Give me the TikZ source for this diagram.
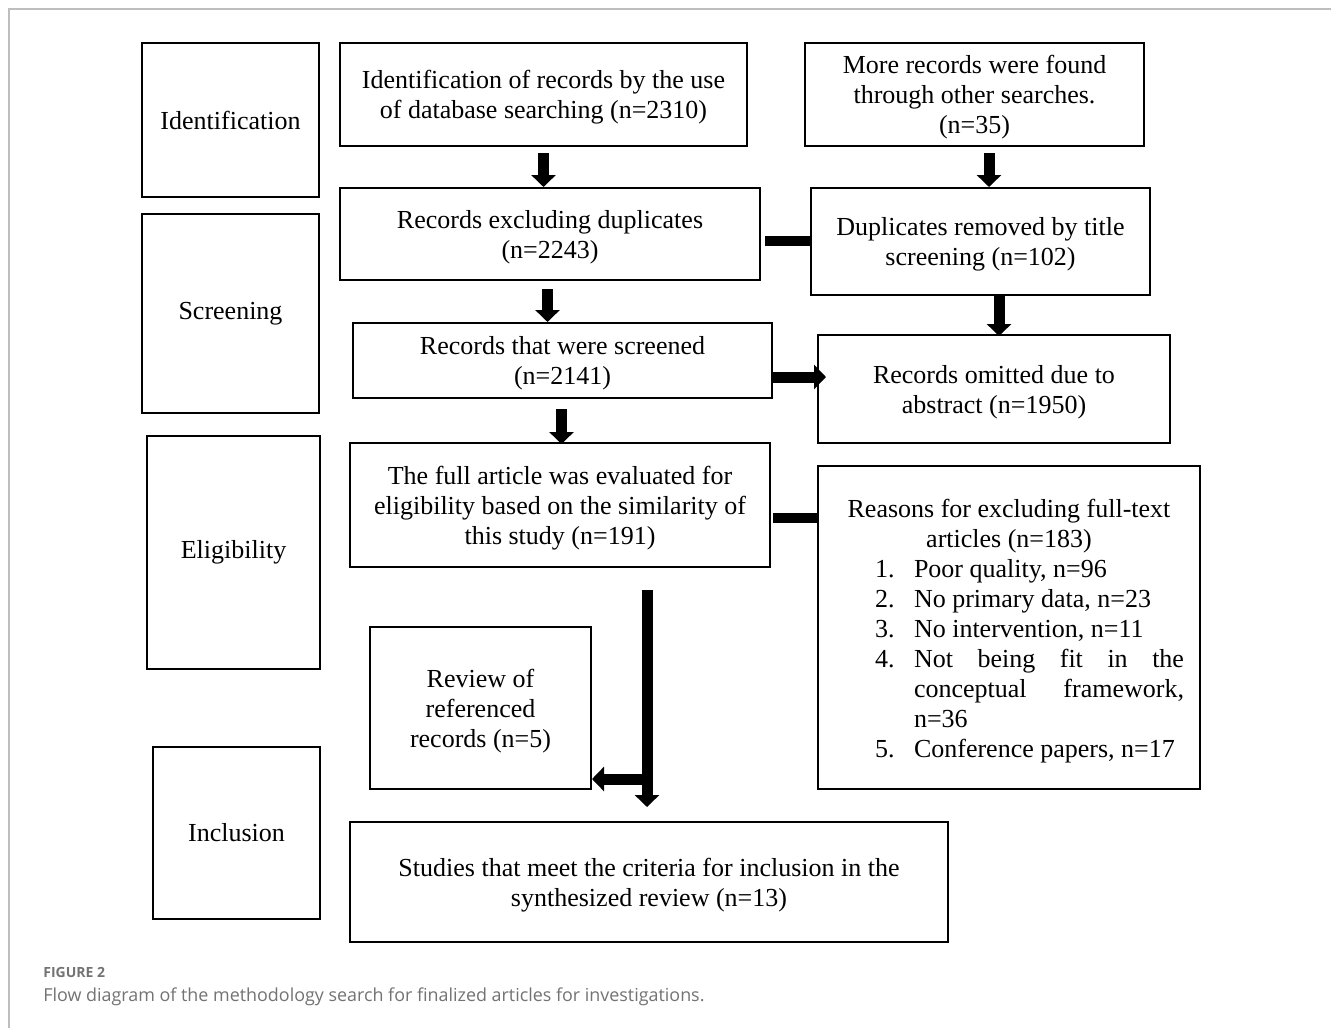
\documentclass[tikz,border=0pt]{standalone}
\usepackage{fontspec}
\setmainfont{Liberation Serif}
\newfontfamily\capfont{Open Sans}
\usepackage{xcolor}
\usepackage{array}
\usepackage{tikz}
\usetikzlibrary{arrows.meta}
\usetikzlibrary{positioning}
\definecolor{framegray}{RGB}{190,190,190}
\definecolor{capgray}{RGB}{115,115,115}
\tikzset{
    stagebox/.style = {draw=black, line width=1pt, align=center, inner sep=0pt, font=\fontsize{13}{15}\selectfont},
    flowbox/.style = {draw=black, line width=1pt, align=center, inner sep=0pt, font=\fontsize{13}{15}\selectfont,
        text depth=-1.5pt},
    blockarrow/.style = {line width=5.5pt, -{Triangle[width=12pt,length=6pt]}},
    blockline/.style = {line width=5pt},
}

\begin{document}
\begin{tikzpicture}[
	x=0.5pt,
	y=-0.5pt,
]
\useasboundingbox (0,0) rectangle (1331,1028);
\fill[white] (0,0) rectangle (1331,1028);
\draw[framegray, line width=1pt] (9,1028) -- (9,9) -- (1331,9);
%
\node[stagebox, minimum width=88.5pt, minimum height=77pt] at (230.5,120) (ident) {Identification};
\node[stagebox, minimum width=88.5pt, minimum height=99.5pt] at (230.5,313.5) (screen) {Screening};
\node[stagebox, minimum width=86.5pt, minimum height=116.5pt] at (233.5,552.5) (elig) {Eligibility};
\node[stagebox, minimum width=83.5pt, minimum height=86pt] at (236.5,833) (incl) {Inclusion};
%
\node[flowbox, minimum width=203.5pt, minimum height=51.5pt] at (543.5,94.5) (dbsearch) {Identification of records by the use\\ of database searching (n=2310)};
\node[flowbox, minimum width=169.5pt, minimum height=51.5pt, text depth=-5.5pt] at (974.5,94.5) (othersearch) {More records were found\\ through other searches.\\ (n=35)};
\node[flowbox, minimum width=210pt, minimum height=46pt] at (550,234) (exdup) {Records excluding duplicates\\ (n=2243)};
\node[flowbox, minimum width=169.5pt, minimum height=53.5pt] at (980.5,241.5) (dupremoved) {Duplicates removed by title\\ screening (n=102)};
\node[flowbox, minimum width=209.5pt, minimum height=37.5pt] at (562.5,360.5) (screened) {Records that were screened\\ (n=2141)};
\node[flowbox, minimum width=176pt, minimum height=54pt] at (994,389) (omitted) {Records omitted due to\\ abstract (n=1950)};
\node[flowbox, minimum width=210pt, minimum height=62pt] at (560,505) (fulltext) {The full article was evaluated for\\ eligibility based on the similarity of\\ this study (n=191)};
\node[flowbox, minimum width=191pt, minimum height=161.5pt, text depth=89.5pt] at (1009,627.5) (reasons) {Reasons for excluding full-text\\ articles (n=183)\\
\hspace*{20.5pt}\begin{tabular}[t]{@{}p{19.5pt}@{}p{135pt}@{}}
1. & Poor quality, n=96\\
2. & No primary data, n=23\\
3. & No intervention, n=11\\
4. & Not being fit in the\linebreak conceptual framework,\linebreak n=36\\
5. & Conference papers, n=17
\end{tabular}};
\node[flowbox, minimum width=110.5pt, minimum height=81pt] at (480.5,708) (review) {Review of\\ referenced\\ records (n=5)};
\node[flowbox, minimum width=299pt, minimum height=60pt] at (649,882) (studies) {Studies that meet the criteria for inclusion in the\\ synthesized review (n=13)};
%
\draw[blockarrow] ([yshift=-3pt]dbsearch.south) -- (dbsearch.south |- exdup.north);
\draw[blockarrow] ([xshift=7.25pt,yshift=-3pt]othersearch.south) coordinate (os) -- (os |- dupremoved.north);
\draw[blockarrow] ([xshift=-1.25pt,yshift=-4pt]exdup.south) coordinate (es) -- (es |- screened.north);
\draw[blockarrow, shorten >=-1pt] ([xshift=9.25pt]dupremoved.south) coordinate (ds) -- (ds |- omitted.north);
\draw[blockarrow, shorten >=-4.5pt] ([yshift=-8.25pt]screened.east) coordinate (se) -- (se -| omitted.west);
\draw[blockarrow, shorten >=-1pt] ([xshift=-0.5pt,yshift=-5pt]screened.south) coordinate (ss) -- (ss |- fulltext.north);
%
\draw[blockline] ([xshift=2pt,yshift=-3.5pt]exdup.east) coordinate (ee) -- (ee -| dupremoved.west);
\draw[blockline] ([xshift=1pt,yshift=-6.5pt]fulltext.east) coordinate (fe) -- (fe -| reasons.west);
%
\draw[blockarrow, shorten >=7pt] ([xshift=43.5pt,yshift=-11pt]fulltext.south) coordinate (lt) -- (lt |- studies.north);
\coordinate (revin) at ([yshift=-35.5pt]review.east);
\draw[blockarrow] (revin -| lt) -- (revin);
%
\node[font=\capfont\bfseries\fontsize{7}{8}\selectfont, text=capgray, anchor=base west, inner sep=0pt] at (43,977) (fignum) {FIGURE 2};
\node[font=\capfont\fontsize{8.95}{10}\selectfont, text=capgray, anchor=base west, inner sep=0pt] at (43,1001) (figcap) {Flow diagram of the methodology search for finalized articles for investigations.};
\end{tikzpicture}
\end{document}
